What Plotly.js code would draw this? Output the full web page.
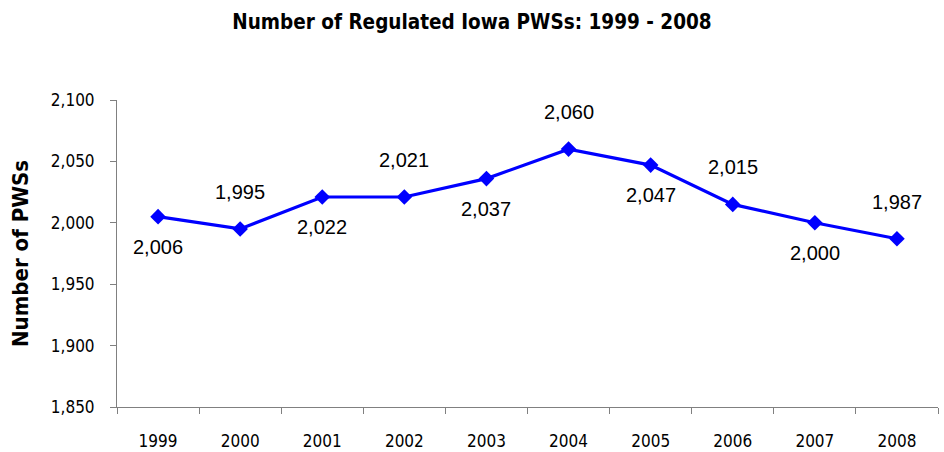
<!DOCTYPE html>
<html><head><meta charset="utf-8">
<script src="https://cdn.plot.ly/plotly-3.0.1.min.js"></script>
<style>body{margin:0;background:#fff}#c{width:944px;height:452px}</style>
</head><body><div id="c"></div>
<script>
const years = ['1999','2000','2001','2002','2003','2004','2005','2006','2007','2008'];
const counts = [2005, 1995, 2021, 2021, 2036, 2060, 2047, 2015, 2000, 1987];
const labels = ['2,006','1,995','2,022','2,021','2,037','2,060','2,047','2,015','2,000','1,987'];
const labelSide = ['below','above','below','above','below','above','below','above','below','above'];
const yTicks = [1850, 1900, 1950, 2000, 2050, 2100];
const yTickText = ['1,850','1,900','1,950','2,000','2,050','2,100'];

const idx = years.map((_, i) => i);
const narrow = '"DejaVu Sans Condensed", "Liberation Sans Narrow", sans-serif';
const annotations = idx.map(i => ({
  x: i, y: counts[i], xref: 'x', yref: 'y', text: labels[i], showarrow: false,
  yshift: labelSide[i] === 'above' ? 37 : -30,
  font: {family: 'Liberation Sans, Arial, sans-serif', size: 20, color: '#000'}
}));

Plotly.newPlot('c', [{
  x: idx, y: counts, type: 'scatter', mode: 'lines+markers',
  line: {color: '#0000FF', width: 3.2},
  marker: {symbol: 'diamond', size: 12, color: '#0000FF'},
  hoverinfo: 'skip'
}], {
  width: 944, height: 452,
  margin: {l: 117, r: 6, t: 100, b: 45},
  paper_bgcolor: '#fff', plot_bgcolor: '#fff',
  showlegend: false,
  title: {text: '<b>Number of Regulated Iowa PWSs: 1999 - 2008</b>', x: 0.5, xanchor: 'center', y: 0.952, yanchor: 'middle',
    font: {family: narrow, size: 20.5, color: '#000'}},
  xaxis: {range: [-0.5, 9.5], tickmode: 'array', tickvals: idx, ticktext: years, ticks: '',
    minor: {tick0: -0.5, dtick: 1, ticks: 'outside', ticklen: 6, tickcolor: '#808080', showgrid: false},
    showline: true, linecolor: '#808080', linewidth: 1, showgrid: false, zeroline: false,
    ticklabelstandoff: 19, tickfont: {family: narrow, size: 17, color: '#000'}, fixedrange: true},
  yaxis: {range: [1850, 2100], tickmode: 'array', tickvals: yTicks, ticktext: yTickText, ticks: 'outside', ticklen: 6,
    tickcolor: '#808080', showline: true, linecolor: '#808080', linewidth: 1, showgrid: false, zeroline: false,
    ticklabelstandoff: 12, tickfont: {family: narrow, size: 17, color: '#000'},
    title: {text: '<b>Number of PWSs</b>', standoff: 16, font: {family: narrow, size: 22, color: '#000'}}},
  annotations: annotations
}, {staticPlot: true});
</script></body></html>
